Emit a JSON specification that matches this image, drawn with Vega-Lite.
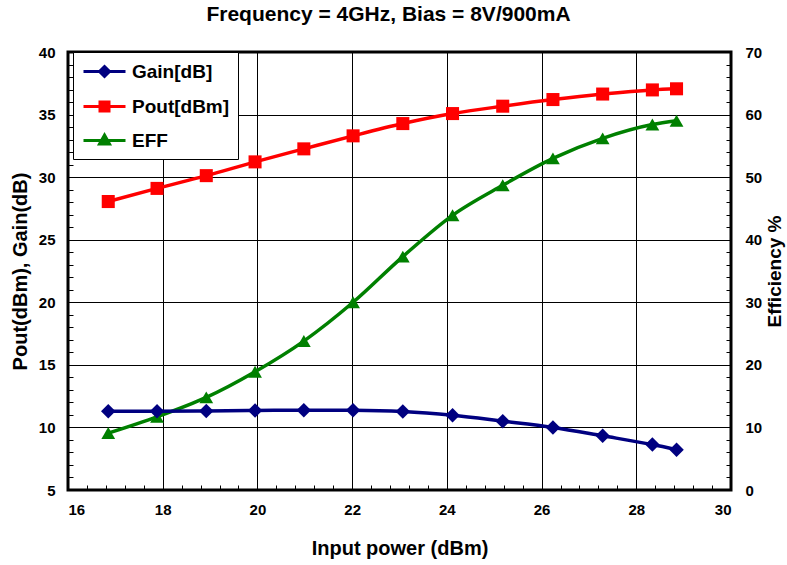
{
  "$schema": "https://vega.github.io/schema/vega-lite/v6.json",
  "width": 663,
  "height": 438,
  "autosize": {"type": "none"},
  "padding": {"left": 68, "top": 52, "right": 56, "bottom": 75},
  "background": "white",
  "title": {
    "text": "Frequency = 4GHz, Bias = 8V/900mA",
    "font": "Liberation Sans",
    "fontSize": 21,
    "fontWeight": "bold",
    "color": "black",
    "anchor": "middle",
    "baseline": "alphabetic",
    "offset": 3,
    "dx": -11
  },
  "config": {
    "view": {"stroke": "#000", "strokeWidth": 3},
    "font": "Liberation Sans",
    "axis": {
      "labelFont": "Liberation Sans",
      "labelFontSize": 15,
      "labelFontWeight": "bold",
      "labelColor": "black",
      "titleFont": "Liberation Sans",
      "titleFontSize": 20,
      "titleFontWeight": "bold",
      "titleColor": "black",
      "domain": false,
      "gridColor": "black",
      "gridWidth": 1,
      "gridOpacity": 1,
      "tickColor": "black",
      "tickWidth": 1
    }
  },
  "data": {
    "values": [
      {"x": 16.85, "s": "Gain[dB]", "v": 11.30},
      {"x": 17.88, "s": "Gain[dB]", "v": 11.30},
      {"x": 18.92, "s": "Gain[dB]", "v": 11.31},
      {"x": 19.95, "s": "Gain[dB]", "v": 11.35},
      {"x": 20.98, "s": "Gain[dB]", "v": 11.38},
      {"x": 22.02, "s": "Gain[dB]", "v": 11.37},
      {"x": 23.07, "s": "Gain[dB]", "v": 11.27},
      {"x": 24.12, "s": "Gain[dB]", "v": 10.97},
      {"x": 25.18, "s": "Gain[dB]", "v": 10.50},
      {"x": 26.24, "s": "Gain[dB]", "v": 10.00},
      {"x": 27.29, "s": "Gain[dB]", "v": 9.33},
      {"x": 28.34, "s": "Gain[dB]", "v": 8.63},
      {"x": 28.85, "s": "Gain[dB]", "v": 8.22},
      {"x": 16.85, "s": "Pout[dBm]", "v": 28.05},
      {"x": 17.88, "s": "Pout[dBm]", "v": 29.10},
      {"x": 18.92, "s": "Pout[dBm]", "v": 30.12},
      {"x": 19.95, "s": "Pout[dBm]", "v": 31.22},
      {"x": 20.98, "s": "Pout[dBm]", "v": 32.26},
      {"x": 22.02, "s": "Pout[dBm]", "v": 33.30},
      {"x": 23.07, "s": "Pout[dBm]", "v": 34.28},
      {"x": 24.12, "s": "Pout[dBm]", "v": 35.08},
      {"x": 25.18, "s": "Pout[dBm]", "v": 35.67},
      {"x": 26.24, "s": "Pout[dBm]", "v": 36.20},
      {"x": 27.29, "s": "Pout[dBm]", "v": 36.64},
      {"x": 28.34, "s": "Pout[dBm]", "v": 36.97},
      {"x": 28.85, "s": "Pout[dBm]", "v": 37.06},
      {"x": 16.85, "s": "EFF", "v": 9.1},
      {"x": 17.88, "s": "EFF", "v": 11.7},
      {"x": 18.92, "s": "EFF", "v": 14.8},
      {"x": 19.95, "s": "EFF", "v": 18.9},
      {"x": 20.98, "s": "EFF", "v": 23.8},
      {"x": 22.02, "s": "EFF", "v": 30.0},
      {"x": 23.07, "s": "EFF", "v": 37.3},
      {"x": 24.12, "s": "EFF", "v": 43.9},
      {"x": 25.18, "s": "EFF", "v": 48.7},
      {"x": 26.24, "s": "EFF", "v": 53.0},
      {"x": 27.29, "s": "EFF", "v": 56.2},
      {"x": 28.34, "s": "EFF", "v": 58.4},
      {"x": 28.85, "s": "EFF", "v": 59.0}
    ]
  },
  "layer": [
    {
      "transform": [{"filter": "datum.s === 'EFF'"}],
      "layer": [
        {
          "mark": {"type": "line", "interpolate": "monotone", "strokeWidth": 3.5, "color": "#008000"},
          "encoding": {
            "x": {
              "field": "x", "type": "quantitative",
              "scale": {"domain": [16, 30], "nice": false, "zero": false},
              "axis": null
            },
            "y": {
              "field": "v", "type": "quantitative",
              "scale": {"domain": [0, 70], "nice": false, "zero": false},
              "axis": {
                "orient": "right",
                "values": [0, 10, 20, 30, 40, 50, 60, 70],
                "grid": false, "ticks": false,
                "labelPadding": 14,
                "title": "Efficiency %",
                "titleFontSize": 19,
                "titleAngle": -90,
                "titleBaseline": "top",
                "titlePadding": 4
              }
            }
          }
        },
        {
          "mark": {"type": "point", "filled": true, "opacity": 1, "shape": "triangle-up", "size": 190},
          "encoding": {
            "x": {"field": "x", "type": "quantitative", "axis": null},
            "y": {
              "field": "v", "type": "quantitative",
              "axis": {
                "orient": "right",
                "values": [2, 4, 6, 8, 12, 14, 16, 18, 22, 24, 26, 28, 32, 34, 36, 38, 42, 44, 46, 48, 52, 54, 56, 58, 62, 64, 66, 68],
                "grid": false, "labels": false, "title": null, "tickSize": -5
              }
            },
            "color": {
              "field": "s", "type": "nominal",
              "scale": {"domain": ["Gain[dB]", "Pout[dBm]", "EFF"], "range": ["#000080", "#FF0000", "#008000"]},
              "legend": {
                "orient": "none", "legendX": 5, "legendY": 0,
                "title": null,
                "fillColor": "white", "strokeColor": "black",
                "padding": 8,
                "labelFont": "Liberation Sans", "labelFontSize": 19, "labelFontWeight": "bold", "labelColor": "black",
                "labelLimit": 300,
                "symbolSize": 400, "symbolStrokeWidth": 3, "symbolOffset": 12, "labelOffset": 16, "symbolOpacity": 1,
                "rowPadding": 12,
                "encode": {
                  "symbols": {
                    "update": {
                      "shape": {"signal": "datum.value === 'Gain[dB]' ? 'M-2.1,0H2.1M0,-0.5L0.5,0L0,0.5L-0.5,0Z' : (datum.value === 'Pout[dBm]' ? 'M-2.1,0H2.1M-0.45,-0.45H0.45V0.45H-0.45Z' : 'M-2.1,0H2.1M0,-0.55L0.5,0.35L-0.5,0.35Z')"},
                      "fill": {"signal": "scale('color', datum.value)"},
                      "stroke": {"signal": "scale('color', datum.value)"},
                      "strokeWidth": {"value": 3},
                      "size": {"value": 400},
                      "opacity": {"value": 1}
                    }
                  }
                }
              }
            }
          }
        }
      ],
      "resolve": {"axis": {"y": "independent"}}
    },
    {
      "transform": [{"filter": "datum.s !== 'EFF'"}],
      "layer": [
        {
          "transform": [{"filter": "datum.s === 'Gain[dB]'"}],
          "mark": {"type": "line", "interpolate": "monotone", "strokeWidth": 3.5, "color": "#000080"},
          "encoding": {
            "x": {
              "field": "x", "type": "quantitative",
              "axis": {
                "orient": "bottom",
                "values": [16, 18, 20, 22, 24, 26, 28, 30],
                "grid": true, "ticks": false,
                "labelPadding": 12,
                "title": "Input power (dBm)",
                "titlePadding": 21
              }
            },
            "y": {
              "field": "v", "type": "quantitative",
              "scale": {"domain": [5, 40], "nice": false, "zero": false},
              "axis": {
                "orient": "left",
                "values": [5, 10, 15, 20, 25, 30, 35, 40],
                "grid": true, "ticks": false,
                "labelPadding": 13,
                "title": "Pout(dBm), Gain(dB)",
                "titlePadding": 8
              }
            }
          }
        },
        {
          "transform": [{"filter": "datum.s === 'Pout[dBm]'"}],
          "mark": {"type": "line", "interpolate": "monotone", "strokeWidth": 3.5, "color": "#FF0000"},
          "encoding": {
            "x": {"field": "x", "type": "quantitative", "axis": null},
            "y": {"field": "v", "type": "quantitative", "axis": null}
          }
        },
        {
          "transform": [{"filter": "datum.s === 'Gain[dB]'"}],
          "mark": {"type": "point", "filled": true, "opacity": 1, "shape": "diamond", "size": 210},
          "encoding": {
            "x": {
              "field": "x", "type": "quantitative",
              "axis": {
                "orient": "bottom",
                "values": [16.4, 16.8, 17.2, 17.6, 18.4, 18.8, 19.2, 19.6, 20.4, 20.8, 21.2, 21.6, 22.4, 22.8, 23.2, 23.6, 24.4, 24.8, 25.2, 25.6, 26.4, 26.8, 27.2, 27.6, 28.4, 28.8, 29.2, 29.6],
                "grid": false, "labels": false, "title": null, "tickSize": -5
              }
            },
            "y": {
              "field": "v", "type": "quantitative",
              "axis": {
                "orient": "left",
                "values": [6, 7, 8, 9, 11, 12, 13, 14, 16, 17, 18, 19, 21, 22, 23, 24, 26, 27, 28, 29, 31, 32, 33, 34, 36, 37, 38, 39],
                "grid": false, "labels": false, "title": null, "tickSize": -5
              }
            },
            "color": {
              "field": "s", "type": "nominal",
              "scale": {"domain": ["Gain[dB]", "Pout[dBm]", "EFF"], "range": ["#000080", "#FF0000", "#008000"]},
              "legend": {
                "orient": "none", "legendX": 5, "legendY": 0,
                "title": null,
                "fillColor": "white", "strokeColor": "black",
                "padding": 8,
                "labelFont": "Liberation Sans", "labelFontSize": 19, "labelFontWeight": "bold", "labelColor": "black",
                "labelLimit": 300,
                "symbolSize": 400, "symbolStrokeWidth": 3, "symbolOffset": 12, "labelOffset": 16, "symbolOpacity": 1,
                "rowPadding": 12,
                "encode": {
                  "symbols": {
                    "update": {
                      "shape": {"signal": "datum.value === 'Gain[dB]' ? 'M-2.1,0H2.1M0,-0.5L0.5,0L0,0.5L-0.5,0Z' : (datum.value === 'Pout[dBm]' ? 'M-2.1,0H2.1M-0.45,-0.45H0.45V0.45H-0.45Z' : 'M-2.1,0H2.1M0,-0.55L0.5,0.35L-0.5,0.35Z')"},
                      "fill": {"signal": "scale('color', datum.value)"},
                      "stroke": {"signal": "scale('color', datum.value)"},
                      "strokeWidth": {"value": 3},
                      "size": {"value": 400},
                      "opacity": {"value": 1}
                    }
                  }
                }
              }
            }
          }
        },
        {
          "transform": [{"filter": "datum.s === 'Pout[dBm]'"}],
          "mark": {"type": "point", "filled": true, "opacity": 1, "shape": "square", "size": 170},
          "encoding": {
            "x": {"field": "x", "type": "quantitative", "axis": null},
            "y": {"field": "v", "type": "quantitative", "axis": null},
            "color": {
              "field": "s", "type": "nominal",
              "scale": {"domain": ["Gain[dB]", "Pout[dBm]", "EFF"], "range": ["#000080", "#FF0000", "#008000"]},
              "legend": {
                "orient": "none", "legendX": 5, "legendY": 0,
                "title": null,
                "fillColor": "white", "strokeColor": "black",
                "padding": 8,
                "labelFont": "Liberation Sans", "labelFontSize": 19, "labelFontWeight": "bold", "labelColor": "black",
                "labelLimit": 300,
                "symbolSize": 400, "symbolStrokeWidth": 3, "symbolOffset": 12, "labelOffset": 16, "symbolOpacity": 1,
                "rowPadding": 12,
                "encode": {
                  "symbols": {
                    "update": {
                      "shape": {"signal": "datum.value === 'Gain[dB]' ? 'M-2.1,0H2.1M0,-0.5L0.5,0L0,0.5L-0.5,0Z' : (datum.value === 'Pout[dBm]' ? 'M-2.1,0H2.1M-0.45,-0.45H0.45V0.45H-0.45Z' : 'M-2.1,0H2.1M0,-0.55L0.5,0.35L-0.5,0.35Z')"},
                      "fill": {"signal": "scale('color', datum.value)"},
                      "stroke": {"signal": "scale('color', datum.value)"},
                      "strokeWidth": {"value": 3},
                      "size": {"value": 400},
                      "opacity": {"value": 1}
                    }
                  }
                }
              }
            }
          }
        }
      ],
      "resolve": {"axis": {"x": "independent", "y": "independent"}}
    }
  ],
  "resolve": {"scale": {"y": "independent"}}
}
